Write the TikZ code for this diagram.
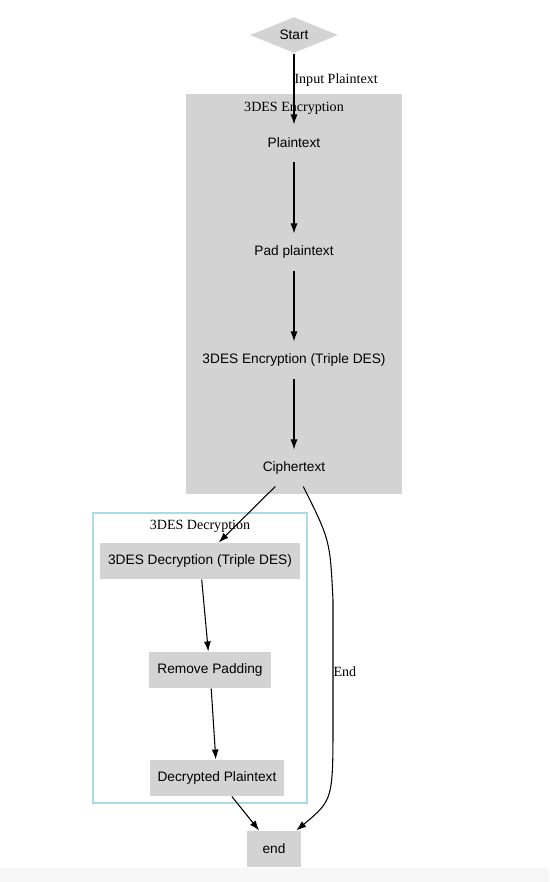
\documentclass[tikz,border=0pt]{standalone}
\usepackage{fontspec}
\setmainfont{Liberation Serif}
\setsansfont{Liberation Sans}
\usepackage{tikz}
\usetikzlibrary{shapes.geometric,arrows.meta}
\definecolor{boxgray}{HTML}{D3D3D3}
\definecolor{clusterblue}{HTML}{ADD8E6}

\begin{document}
\begin{tikzpicture}[x=0.02cm,y=-0.02cm, line width=0.6pt,
  >={Latex[length=0.2cm,width=0.14cm]},
  every node/.style={font=\sffamily\fontsize{7.8}{9.4}\selectfont},
  box/.style={fill=boxgray, minimum width=1.08cm, minimum height=0.72cm, inner xsep=0.16cm},
  plainbox/.style={minimum width=1.08cm, minimum height=0.72cm, inner xsep=0.16cm},
  lbl/.style={font=\rmfamily\fontsize{8}{9.6}\selectfont, yshift=-0.04cm}]

\useasboundingbox (0,0) rectangle (549,882);
\fill[gray!7] (0,868) rectangle (549,882);

% clusters
\fill[boxgray] (186,94) rectangle (402,494);
\node[lbl] (enclabel) at (294,106) {3DES Encryption};
\draw[clusterblue] (93,513) rectangle (307,803);
\node[lbl] (declabel) at (200,524) {3DES Decryption};

\node[diamond, fill=boxgray, aspect=2.44, inner sep=0pt, minimum width=1.76cm, minimum height=0.72cm] (start) at (294,35) {Start};
\node[plainbox] (plain) at (294,143) {Plaintext};
\node[plainbox] (pad) at (294,252) {Pad plaintext};
\node[plainbox] (enc) at (294,360) {3DES Encryption (Triple DES)};
\node[plainbox] (ciph) at (294,468) {Ciphertext};
\node[box] (dec) at (200,561) {3DES Decryption (Triple DES)};
\node[box] (unpad) at (210,670) {Remove Padding};
\node[box] (decplain) at (217,778) {Decrypted Plaintext};
\node[box] (stop) at (274,849) {end};
\coordinate (bendtop) at (333,600);
\coordinate (bendbot) at (333,720);

\draw[->] (start) edge node[lbl, pos=0.35, anchor=west, inner sep=0pt] {Input Plaintext} (plain);
\draw[->] (plain) edge (pad);
\draw[->] (pad) edge (enc);
\draw[->] (enc) edge (ciph);
\draw[->] (ciph) edge (dec);
\draw[->] (dec) edge (unpad);
\draw[->] (unpad) edge (decplain);
\draw[->] (decplain) edge (stop);
\draw[->] (ciph) .. controls (330,540) .. (bendtop) -- node[lbl, pos=0.58, anchor=west, inner sep=0pt] {End} (bendbot) .. controls (333,800) .. (stop);
\end{tikzpicture}
\end{document}
